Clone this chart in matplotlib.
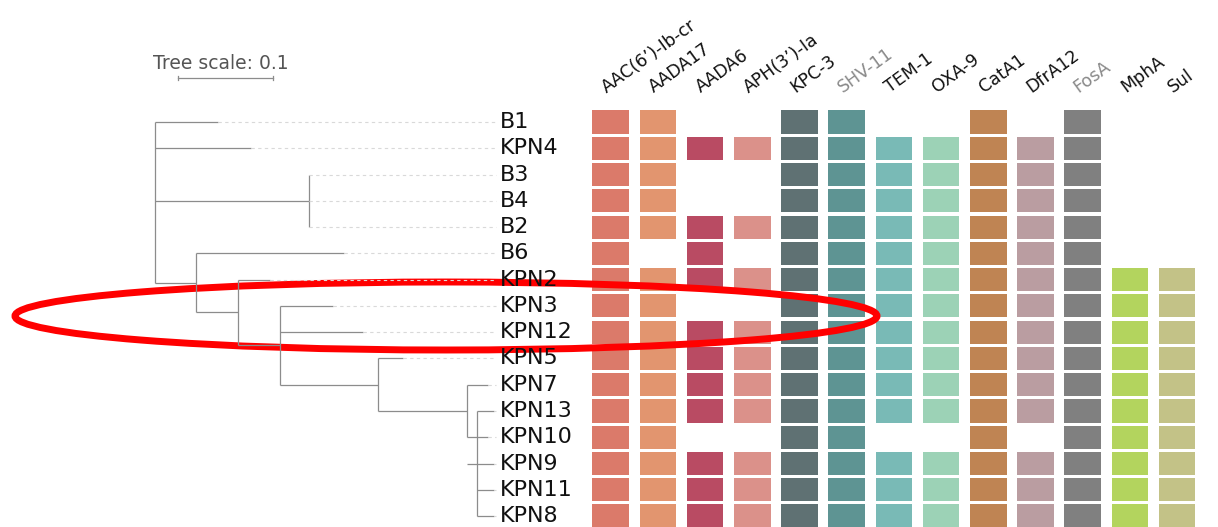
import matplotlib
matplotlib.use("Agg")
import matplotlib.pyplot as plt
from matplotlib.patches import Rectangle, Ellipse

# leaf order, top to bottom
taxa = ["B1", "KPN4", "B3", "B4", "B2", "B6", "KPN2", "KPN3", "KPN12",
        "KPN5", "KPN7", "KPN13", "KPN10", "KPN9", "KPN11", "KPN8"]

# tree: (node, parent, distance from root); children keep list order
tree = [
    ("root", None, 0.0),
    ("B1", "root", 0.066),
    ("KPN4", "root", 0.101),
    ("cA", "root", 0.162),
    ("B3", "cA", 0.162), ("B4", "cA", 0.162), ("B2", "cA", 0.162),
    ("cB", "root", 0.043),
    ("B6", "cB", 0.199),
    ("cC", "cB", 0.087),
    ("KPN2", "cC", 0.121),
    ("cD", "cC", 0.132),
    ("KPN3", "cD", 0.187),
    ("KPN12", "cD", 0.219),
    ("cE", "cD", 0.235),
    ("KPN5", "cE", 0.261),
    ("cF", "cE", 0.328),
    ("KPN7", "cF", 0.351),
    ("cG", "cF", 0.339),
    ("KPN13", "cG", 0.357), ("KPN9", "cG", 0.357),
    ("KPN11", "cG", 0.357), ("KPN8", "cG", 0.357),
    ("KPN10", "cF", 0.351),
]

genes = ["AAC(6’)-Ib-cr", "AADA17", "AADA6", "APH(3’)-Ia", "KPC-3", "SHV-11",
         "TEM-1", "OXA-9", "CatA1", "DfrA12", "FosA", "MphA", "Sul"]
gene_colors = ["#DB7A6A", "#E2956F", "#B94B63", "#DB918A", "#5F7173", "#5E9493",
               "#79BAB6", "#9CD2B6", "#BF8453", "#BA9DA1", "#808080", "#B3D45E",
               "#C3C287"]
gene_text = ["#111111"] * 5 + ["#8a8a8a"] + ["#111111"] * 4 + ["#8a8a8a"] + ["#111111"] * 2

# gene presence per taxon (same order as genes)
presence = {
    "B1":    "1100110010100",
    "KPN4":  "1111111111100",
    "B3":    "1100111111100",
    "B4":    "1100111111100",
    "B2":    "1111111111100",
    "B6":    "1010111111100",
    "KPN2":  "1111111111111",
    "KPN3":  "1100111111111",
    "KPN12": "1111111111111",
    "KPN5":  "1111111111111",
    "KPN7":  "1111111111111",
    "KPN13": "1111111111111",
    "KPN10": "1100110010111",
    "KPN9":  "1111111111111",
    "KPN11": "1111111111111",
    "KPN8":  "1111111111111",
}

# layout
X0, PX_PER_UNIT = 155, 950       # tree root and branch-length scale
LABEL_X = 500
COL_X0, COL_STEP, CELL_W, CELL_H = 610.6, 47.2, 36.6, 0.88
ROW_TOP, ROW_STEP = 122, 26.27   # pixel position of first row / row pitch

fig = plt.figure(figsize=(12.18, 5.27), dpi=100)
ax = fig.add_axes([0, 0, 1, 1])
ax.set_xlim(0, 1218)
ax.set_ylim((527 - ROW_TOP) / ROW_STEP, -ROW_TOP / ROW_STEP)
ax.axis("off")

def px_row(py):
    return (py - ROW_TOP) / ROW_STEP

# ---- tree layout ----
depth = {n: d for n, _, d in tree}
children = {}
for n, p, _ in tree:
    if p is not None:
        children.setdefault(p, []).append(n)

ypos = {t: i for i, t in enumerate(taxa)}

def place(n):
    if n in ypos:
        return ypos[n]
    ys = [place(c) for c in children[n]]
    ypos[n] = (ys[0] + ys[-1]) / 2
    return ypos[n]

place("root")

def tx(d):
    return X0 + d * PX_PER_UNIT

line_kw = dict(color="#8c8c8c", lw=0.9, solid_capstyle="butt")
for n, p, d in tree:
    if p is not None:
        ax.plot([tx(depth[p]), tx(d)], [ypos[n], ypos[n]], **line_kw)
    if n in children:
        kids = children[n]
        ax.plot([tx(d), tx(d)], [ypos[kids[0]], ypos[kids[-1]]], **line_kw)

# dashed guides from tips to labels
for t in taxa:
    ax.plot([tx(depth[t]), LABEL_X - 4], [ypos[t], ypos[t]], color="#d9d9d9",
            lw=0.8, ls=(0, (3, 3)))
    ax.text(LABEL_X, ypos[t], t, fontsize=16, color="#111111",
            va="center", ha="left")

# ---- gene presence grid ----
for i, t in enumerate(taxa):
    for j, flag in enumerate(presence[t]):
        if flag == "1":
            cx = COL_X0 + j * COL_STEP
            ax.add_patch(Rectangle((cx - CELL_W / 2, i - CELL_H / 2), CELL_W, CELL_H,
                                   facecolor=gene_colors[j], edgecolor="none"))

for j, g in enumerate(genes):
    cx = COL_X0 + j * COL_STEP
    ax.text(cx - 4, px_row(93), g, rotation=36, rotation_mode="anchor",
            ha="left", va="baseline", fontsize=12.5, color=gene_text[j])

# ---- tree scale bar ----
ax.text(153, px_row(63), "Tree scale: 0.1", fontsize=13.5, color="#555555",
        va="center", ha="left")
bar_y = px_row(78)
ax.plot([tx(0) + 23, tx(0.1) + 23], [bar_y, bar_y], color="#8c8c8c", lw=0.9)
for bx in (tx(0) + 23, tx(0.1) + 23):
    ax.plot([bx, bx], [bar_y - 0.08, bar_y + 0.08], color="#8c8c8c", lw=0.9)

# highlight around KPN3 / KPN12
ax.add_patch(Ellipse((446, px_row(316)), 862, 68 / ROW_STEP, fill=False,
                     edgecolor="#ff0000", lw=5))

fig.savefig("out.png", dpi=100, facecolor="white")
